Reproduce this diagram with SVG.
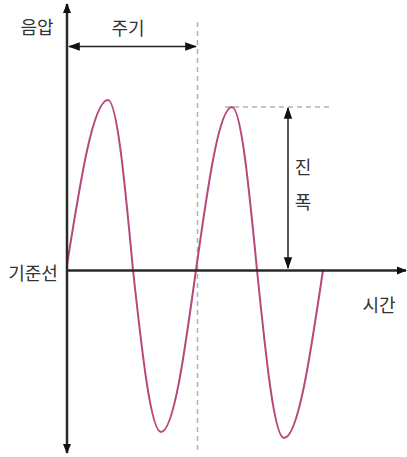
<svg xmlns="http://www.w3.org/2000/svg" width="407" height="457" viewBox="0 0 407 457">
<style>
.lbl{font-family:"Noto Sans CJK KR","Noto Sans",sans-serif;font-size:18px;fill:#333;text-anchor:middle;dominant-baseline:central}
.axis{stroke:#2a2a2a;stroke-width:2.5;fill:none}
.thin{stroke:#222;stroke-width:1.5;fill:none}
.wave{stroke:#b8487c;stroke-width:2;fill:none}
.dash{stroke:#b0b0b0;stroke-width:1.5;fill:none;stroke-dasharray:5 4}
</style>
<defs>
<marker id="ah" viewBox="0 0 10 10" refX="9" refY="5" markerWidth="10" markerHeight="10" markerUnits="userSpaceOnUse" orient="auto-start-reverse">
<path d="M0,1 L10,5 L0,9 Z" fill="#111"/>
</marker>
<marker id="as" viewBox="0 0 10 10" refX="9" refY="5" markerWidth="12" markerHeight="12" markerUnits="userSpaceOnUse" orient="auto-start-reverse">
<path d="M0,1.5 L10,5 L0,8.5 Z" fill="#111"/>
</marker>
</defs>
<g id="guides">
<line class="dash" x1="197.5" y1="22" x2="197.5" y2="453"/>
<line class="dash" x1="225" y1="107" x2="333" y2="107"/>
</g>
<g id="wave">
<path class="wave" d="M67,265 C80.4,180.5 93.2,100 108,100 C117,100 124.9,182.9 133,270 C142.1,353 150.9,432 161,432 C173.7,432 184.6,353 196,270 C207.7,186.5 219,107 232,107 C241,107 248.9,186.5 257,270 C265.8,356 274.2,438 284,438 C298.1,438 310.3,356 323,270"/>
</g>
<g id="connectors">
<line class="axis" x1="67" y1="453" x2="67" y2="4" marker-start="url(#ah)" marker-end="url(#ah)"/>
<line class="axis" x1="67" y1="270.5" x2="406" y2="270.5" marker-end="url(#ah)"/>
<line class="thin" x1="69" y1="46.5" x2="196" y2="46.5" marker-start="url(#as)" marker-end="url(#as)"/>
<line class="thin" x1="288" y1="108" x2="288" y2="268" marker-start="url(#as)" marker-end="url(#as)"/>
</g>
<g id="label-pressure"><text class="lbl" x="37" y="26">음압</text></g>
<g id="label-period"><text class="lbl" x="128" y="27">주기</text></g>
<g id="label-baseline"><text class="lbl" x="33" y="272">기준선</text></g>
<g id="label-time"><text class="lbl" x="379" y="304">시간</text></g>
<g id="label-amplitude">
<text class="lbl" x="303" y="166">진</text>
<text class="lbl" x="303" y="201">폭</text>
</g>
</svg>
